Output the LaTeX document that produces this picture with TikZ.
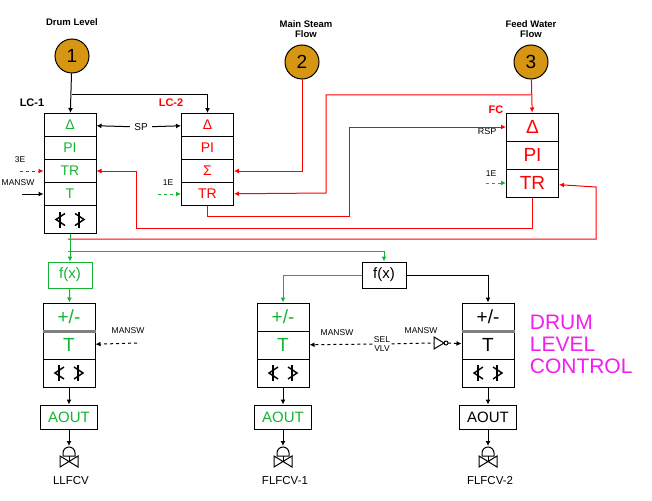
\documentclass[tikz,border=0pt]{standalone}
\usepackage{fontspec}
\setmainfont{Liberation Sans}
\usetikzlibrary{arrows.meta,calc}
\definecolor{gld}{RGB}{214,150,20}
\definecolor{grn}{RGB}{20,180,50}
\definecolor{mag}{RGB}{240,30,240}
\tikzset{
  row/.style={draw,minimum width=52pt,minimum height=23pt,inner sep=0pt,font=\fontsize{14}{14}\selectfont},
  big/.style={row,minimum height=28pt,font=\fontsize{19}{19}\selectfont},
  src/.style={circle,draw,fill=gld,minimum size=34pt,inner sep=0pt,font=\fontsize{19}{19}\selectfont},
  lbl/.style={font=\fontsize{9.5}{10.5}\selectfont\bfseries,align=center},
  sm/.style={font=\fontsize{8.5}{9}\selectfont,align=center,inner sep=1pt},
  ar/.style={-{Latex[length=5pt,width=5pt]}},
}
% clamp symbol at a node
\newcommand{\clampsym}[1]{
  \draw[line width=1.4pt] ($(#1)+(-5,-6)$) -- ($(#1)+(-14,0)$) -- ($(#1)+(-5,6)$);
  \draw[line width=1.4pt] ($(#1)+(-10,-8)$) -- ($(#1)+(-10,8)$);
  \draw[line width=1.4pt] ($(#1)+(5,-6)$) -- ($(#1)+(14,0)$) -- ($(#1)+(5,6)$);
  \draw[line width=1.4pt] ($(#1)+(9,-8)$) -- ($(#1)+(9,8)$);
}
% valve with actuator, top at coordinate
\newcommand{\valve}[1]{
  \draw ($(#1)+(-6,10)$) -- ($(#1)+(-6,7)$) arc[start angle=180,end angle=360,radius=6] -- ($(#1)+(6,10)$) -- cycle;
  \draw ($(#1)+(0,10)$) -- ($(#1)+(0,15)$);
  \draw ($(#1)+(-9,10)$) -- ($(#1)+(9,21)$) -- ($(#1)+(9,10)$) -- ($(#1)+(-9,21)$) -- cycle;
}
\begin{document}
\begin{tikzpicture}[x=1pt,y=-1pt,line width=1pt]
  \useasboundingbox (0,0) rectangle (652,500);
  % sources
  \node[lbl] at (72,22) {Drum Level};
  \node[lbl] at (306,29) {Main Steam\\Flow};
  \node[lbl] at (531,29) {Feed Water\\Flow};
  \node[src] (s1) at (72,56) {1};
  \node[src] (s2) at (302,62) {2};
  \node[src] (s3) at (531,62) {3};
  % LC-1
  \node[row,text=grn] (a1) at (70,125) {Δ};
  \node[row,text=grn] (a2) at (70,148) {PI};
  \node[row,text=grn] (a3) at (70,171) {TR};
  \node[row,text=grn] (a4) at (70,194) {T};
  \node[row,minimum height=28pt] (a5) at (70,219.5) {};
  \clampsym{a5}
  \node[lbl,font=\fontsize{11}{11}\selectfont\bfseries] at (32,103) {LC-1};
  % LC-2
  \node[row,text=red] (b1) at (207.5,125) {Δ};
  \node[row,text=red] (b2) at (207.5,148) {PI};
  \node[row,text=red] (b3) at (207.5,171) {Σ};
  \node[row,text=red] (b4) at (207.5,194) {TR};
  \node[lbl,text=red,font=\fontsize{11}{11}\selectfont\bfseries] at (171,103) {LC-2};
  % FC
  \node[big,text=red] (c1) at (532.5,127) {Δ};
  \node[big,text=red] (c2) at (532.5,155) {PI};
  \node[big,text=red] (c3) at (532.5,183) {TR};
  \node[lbl,text=red,font=\fontsize{11}{11}\selectfont\bfseries] at (496,110) {FC};
  \node[sm,font=\fontsize{9}{9}\selectfont] at (487,131) {RSP};
  % top connections
  \coordinate (j1) at (72,95);
  \draw[ar] (s1) -- (a1);
  \draw[ar] (j1) -| (b1);
  \node[sm,font=\fontsize{10}{10}\selectfont,inner sep=4pt] (sp) at (141,127) {SP};
  \draw[ar] (sp) -- (a1);
  \draw[ar] (sp) -- (b1);
  \draw[red,ar] (s2) |- (b3);
  \draw[red,ar] (s3) -- (c1);
  \draw[red,ar] (531,95) -| (326,193) -- (b4);
  \draw[red,ar] (b4.south) |- (349,216) |- (c1.west);
  \draw[red,ar] (c3.south) |- (136,228) |- (a3);
  \draw[red,ar] (68,239) -| (596,187) -- (c3);
  % side inputs
  \node[sm] at (20,160) {3E};
  \draw[red,dashed,ar] (20,171) -- (a3);
  \node[sm] at (18,183) {MANSW};
  \draw[ar] (22,194) -- (a4);
  \node[sm] at (168,183) {1E};
  \draw[grn,dashed,ar] (158,194) -- (b4);
  \node[sm] at (491,174) {1E};
  \draw[grn,dashed,ar] (486,183) -- (c3);
  % function blocks
  \node[row,draw=grn,minimum width=44pt,minimum height=26pt,font=\fontsize{15}{15}\selectfont] (f1) at (70,275) {\textcolor{grn}{f(x)}};
  \node[row,minimum width=44pt,minimum height=26pt,font=\fontsize{15}{15}\selectfont] (f2) at (384,275) {f(x)};
  \draw[grn,ar] (a5) -- (f1);
  \draw[grn,ar] (68,251) -| (f2);
  % output stations
  \foreach \n/\x/\c in {p/69/grn,q/283/grn,r/488/black} {
    \node[row,big,text=\c] (\n1) at (\x,317) {+/-};
    \node[row,big,text=\c] (\n2) at (\x,345) {T};
    \node[row,big] (\n3) at (\x,373) {};
    \clampsym{\n3}
    \node[row,text=\c,minimum width=57pt,minimum height=24pt,font=\fontsize{15}{15}\selectfont] (\n4) at (\x,417) {AOUT};
    \draw[ar] (\n3) -- (\n4);
    \coordinate (\n5) at (\x,446);
    \draw[ar] (\n4) -- (\n5);
    \valve{\n5}
  }
  \draw[gray,line width=2.2pt] (p1.south west) -- (p1.south east);
  \draw[gray,line width=2.2pt] (r1.south west) -- (r1.south east);
  \node[font=\fontsize{11.5}{11.5}\selectfont] at (71,481) {LLFCV};
  \node[font=\fontsize{11.5}{11.5}\selectfont] at (285,481) {FLFCV-1};
  \node[font=\fontsize{11.5}{11.5}\selectfont] at (490,481) {FLFCV-2};
  \draw[grn,ar] (f1) -- (p1);
  \draw[grn,ar] (f2) -| (q1);
  \draw[ar] (f2) -| (r1);
  % manual switches
  \node[sm] at (128,331) {MANSW};
  \draw[dashed,ar] (137,343) -- (p2);
  \node[sm] at (337,333) {MANSW};
  \node[sm] (sel) at (382,344) {SEL\\VLV};
  \draw[dashed,ar] (sel) -- (q2);
  \node[sm] at (421,331) {MANSW};
  \draw (434,337) -- (444,343) -- (434,349) -- cycle;
  \draw (446,343) circle (2);
  \draw[dashed] (sel) -- (434,343);
  \draw[dashed,ar] (448,343) -- (r2);
  \node[text=mag,align=left,font=\fontsize{21}{22}\selectfont,anchor=west] at (526,344) {DRUM\\LEVEL\\CONTROL};
\end{tikzpicture}
\end{document}
